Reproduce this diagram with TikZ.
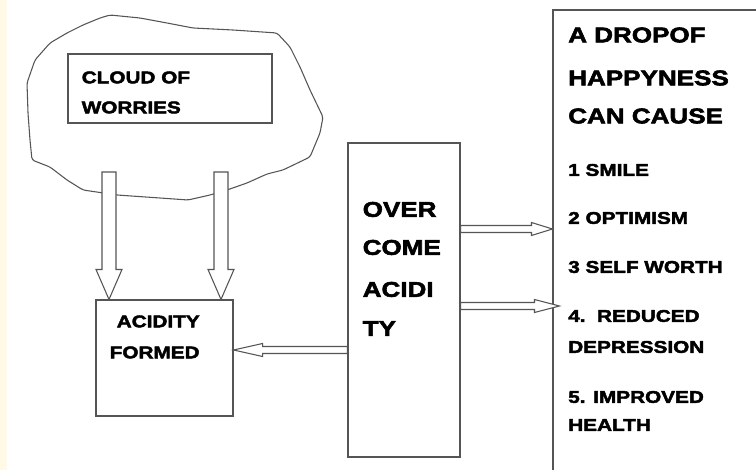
\documentclass[tikz,border=0pt]{standalone}
\usepackage{fontspec}
\setmainfont{Liberation Sans}[FakeStretch=1.22, BoldFeatures={FakeBold=2.6}]
\usepackage{tikz}
\usetikzlibrary{calc,fit}

\definecolor{linec}{RGB}{85,85,85}
\definecolor{cream}{RGB}{255,249,230}

\tikzset{
  box/.style={draw=linec, line width=0.8pt, inner sep=0pt, fill=white},
  blockarrow/.style={draw=linec, line width=0.8pt, fill=white, line join=miter},
  txt/.style={anchor=west, inner sep=0pt, font=\bfseries\fontsize{12.75}{14}\selectfont},
  bigtxt/.style={anchor=west, inner sep=0pt, font=\bfseries\fontsize{16}{18}\selectfont}
}

% down arrow: #1 start, #2 tip
\newcommand{\downblock}[2]{%
  \draw[blockarrow] ($(#1)+(-7,0)$) -- ($(#1)+(7,0)$) -- ($(#2)+(7,-30)$) -- ($(#2)+(13,-30)$)
    -- (#2) -- ($(#2)+(-13,-30)$) -- ($(#2)+(-7,-30)$) -- cycle;}
% side arrow: #1 start, #2 tip, #3 head length (signed)
\newcommand{\sideblock}[3]{%
  \draw[blockarrow] ($(#1)+(0,-3.5)$) -- ($(#2)+(#3,-3.5)$) -- ($(#2)+(#3,-6.5)$) -- (#2)
    -- ($(#2)+(#3,6.5)$) -- ($(#2)+(#3,3.5)$) -- ($(#1)+(0,3.5)$) -- cycle;}

\begin{document}
\begin{tikzpicture}[x=0.75pt, y=-0.75pt]
  \useasboundingbox (0,0) rectangle (756,470);
  \clip (0,0) rectangle (756,470);
  \fill[white] (0,0) rectangle (756,470);
  \fill[cream] (0,0) rectangle (7,470);

  % cloud
  \draw[linec, line width=0.8pt, rounded corners=2pt]
    (100,18) -- (110,15) -- (140,18) -- (167,23) -- (193,28) -- (233,30) -- (277,33)
    -- (290,47) -- (300,67) -- (310,90) -- (323,117) -- (320,133) -- (310,157)
    -- (283,170) -- (267,174) -- (247,183) -- (227,190) -- (210,195) -- (188,200)
    -- (160,198) -- (117,195) -- (83,190) -- (67,180) -- (50,167) -- (32,160)
    -- (30,140) -- (28,113) -- (27,83) -- (35,60) -- (50,43) -- (67,33) -- (83,25) -- cycle;

  \node[box, fit={(68,54) (272,123)}] (worries) {};
  \node[txt] (worries1) at ($(worries.north west)+(14,24)$) {CLOUD OF};
  \node[txt] (worries2) at ($(worries.north west)+(14,54)$) {WORRIES};

  \node[box, fit={(96,300) (233,416)}] (acid) {};
  \node[txt] (acid1) at ($(acid.north west)+(21,22)$) {ACIDITY};
  \node[txt] (acid2) at ($(acid.north west)+(14,53)$) {FORMED};

  \node[box, fit={(348,143) (460,457)}] (overcome) {};
  \node[bigtxt] (oc1) at ($(overcome.north west)+(15,67)$) {OVER};
  \node[bigtxt] (oc2) at ($(overcome.north west)+(15,105)$) {COME};
  \node[bigtxt] (oc3) at ($(overcome.north west)+(15,147)$) {ACIDI};
  \node[bigtxt] (oc4) at ($(overcome.north west)+(15,186)$) {TY};

  \node[box, fit={(553,10) (800,520)}] (happy) {};
  \node[bigtxt] (h1) at (568,35) {A DROPOF};
  \node[bigtxt] (h2) at (568,78) {HAPPYNESS};
  \node[bigtxt] (h3) at (568,116) {CAN CAUSE};
  \node[txt] (h4) at (568,170) {1 SMILE};
  \node[txt] (h5) at (568,218) {2 OPTIMISM};
  \node[txt] (h6) at (568,267) {3 SELF WORTH};
  \node[txt] (h7) at (568,316) {4.\ \ REDUCED};
  \node[txt] (h8) at (568,347) {DEPRESSION};
  \node[txt] (h9) at (568,397) {5. IMPROVED};
  \node[txt] (h10) at (568,425) {HEALTH};

  % arrows
  \coordinate (d1s) at (109,172);
  \coordinate (d1t) at (109,0 |- acid.north);
  \coordinate (d2s) at (221,172);
  \coordinate (d2t) at (221,0 |- acid.north);
  \downblock{d1s}{d1t}
  \downblock{d2s}{d2t}

  \coordinate (ls) at (overcome.west |- 0,350);
  \coordinate (lt) at (acid.east |- 0,350);
  \sideblock{ls}{lt}{29}

  \coordinate (r1s) at (overcome.east |- 0,229);
  \coordinate (r1t) at (happy.west |- 0,229);
  \coordinate (r2s) at (overcome.east |- 0,306);
  \coordinate (r2t) at ($(happy.west |- 0,306)+(7,0)$);
  \sideblock{r1s}{r1t}{-21}
  \sideblock{r2s}{r2t}{-25}
\end{tikzpicture}
\end{document}
